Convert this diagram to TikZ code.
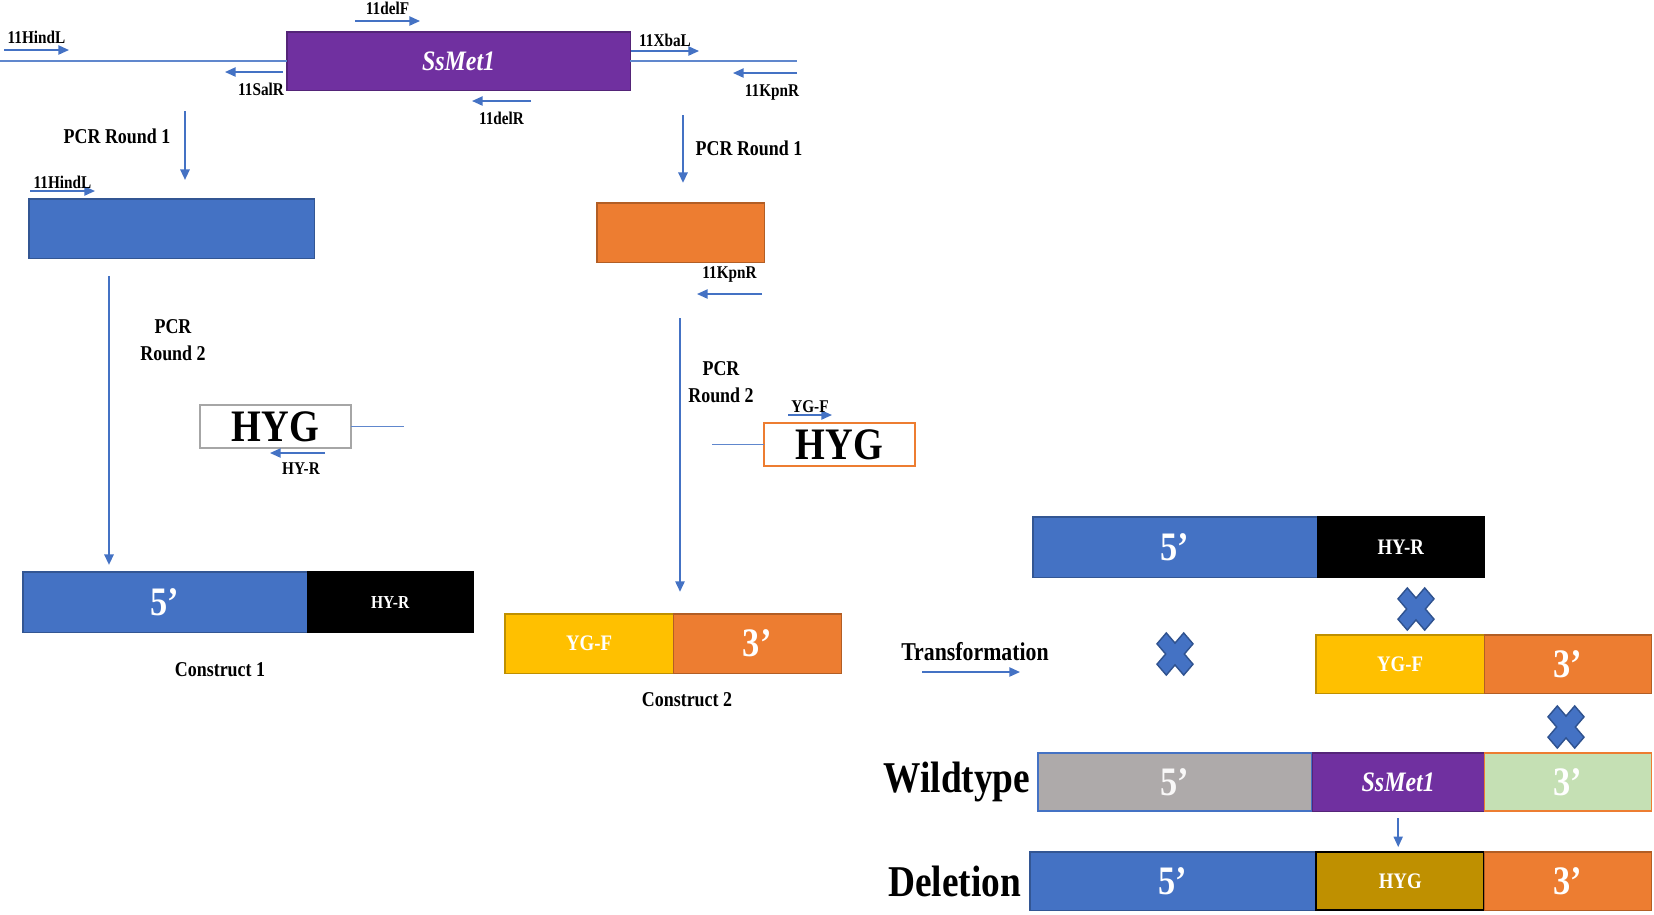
\documentclass[tikz,border=0pt]{standalone}
\usepackage{fontspec}
\setmainfont{Liberation Serif}[FakeStretch=0.85]
\usetikzlibrary{arrows.meta, positioning}
\definecolor{genepurple}{HTML}{7030A0}
\definecolor{fragblue}{HTML}{4472C4}
\definecolor{fragorange}{HTML}{ED7D31}
\definecolor{fragyellow}{HTML}{FFC000}
\definecolor{fraggray}{HTML}{AEAAAA}
\definecolor{fraggreen}{HTML}{C5E0B4}
\definecolor{hyggold}{HTML}{BF9000}
\definecolor{crossedge}{HTML}{2F528F}

\tikzset{
  block/.style={draw=#1!75!black, fill=#1, line width=0.3pt, minimum height=0.59cm, inner sep=0pt, outer sep=0pt},
  primer/.style={->, fragblue, line width=0.45pt},
  dna/.style={fragblue!85, line width=0.35pt},
  pcrarrow/.style={->, fragblue, line width=0.65pt},
  lbl/.style={text=black, font=\fontsize{5.1}{6}\selectfont\bfseries, inner sep=0.5pt},
  steplbl/.style={text=black, font=\fontsize{6}{7.6}\selectfont\bfseries, align=center, inner sep=0pt},
  rowlbl/.style={text=black, font=\fontsize{12.5}{14}\selectfont\bfseries, inner sep=0pt},
  endtxt/.style={text=white, font=\fontsize{11.5}{12}\selectfont\bfseries},
  tagtxt/.style={text=white, font=\fontsize{6.3}{7}\selectfont\bfseries},
  genetxt/.style={text=white, font=\fontsize{8}{9}\selectfont\bfseries\itshape},
  hygbox/.style={fill=white, inner sep=0pt, outer sep=0pt, minimum width=1.51cm, minimum height=0.43cm, font=\fontsize{12.8}{13}\selectfont\bfseries},
  crossmark/.pic={
    \fill[fragblue, draw=crossedge, line width=0.4pt, yscale=1.17, rotate=45]
      (6.6,6.6) -- (6.6,18.9) -- (-6.6,18.9) -- (-6.6,6.6) -- (-18.9,6.6) -- (-18.9,-6.6)
      -- (-6.6,-6.6) -- (-6.6,-18.9) -- (6.6,-18.9) -- (6.6,-6.6) -- (18.9,-6.6) -- (18.9,6.6) -- cycle;
  }
}

\begin{document}
\begin{tikzpicture}[x=0.01cm, y=-0.01cm, > = {Triangle[length=3pt, width=2.6pt]}]
  \useasboundingbox (0,0) rectangle (1654,914);

  % locus with primers
  \node[block=genepurple, minimum width=3.43cm, minimum height=0.58cm, anchor=north west, genetxt] (gene) at (287,32) {SsMet1};
  \draw[dna] (gene.west) -- ++(-287,0);
  \draw[dna] (gene.east) -- ++(167,0);
  \draw[primer] (4,50) -- (69,50) node[midway, above=1pt, lbl] (hindA) {11HindL};
  \draw[primer] (355,21) -- (420,21) node[midway, above=1pt, lbl] (delF) {11delF};
  \draw[primer] (283,72) -- (225,72) node[midway, below=2.5pt, lbl, xshift=2pt] (salR) {11SalR};
  \draw[primer] (631,51) -- (699,51) node[midway, above=0.5pt, lbl] (xbaL) {11XbaL};
  \draw[primer] (797,73) -- (733,73) node[midway, below=2.5pt, lbl, xshift=2pt] (kpnA) {11KpnR};
  \draw[primer] (531,101) -- (472,101) node[midway, below=2.5pt, lbl] (delR) {11delR};

  % PCR round 1
  \coordinate (pcrA) at (185,111);
  \coordinate (pcrB) at (683,115);
  \node[steplbl] (pcrAtxt) at (117,136) {PCR Round 1};
  \node[steplbl] (pcrBtxt) at (749,148) {PCR Round 1};
  \node[block=fragblue, minimum width=2.85cm, anchor=north west] (lfrag) at (29,199) {};
  \node[block=fragorange, minimum width=1.67cm, anchor=north west] (rfrag) at (597,203) {};
  \draw[pcrarrow, shorten >=5.4pt] (pcrA) -- (pcrA |- lfrag.north);
  \draw[pcrarrow, shorten >=5.7pt] (pcrB) -- (pcrB |- rfrag.north);
  \draw[primer] (30,191) -- (95,191) node[midway, above=0pt, lbl] (hindB) {11HindL};
  \draw[primer] (762,294) -- (697,294) node[midway, above=2.5pt, lbl] (kpnB) {11KpnR};

  % PCR round 2
  \coordinate (pcrC) at (109,267);
  \coordinate (pcrD) at (680,318);
  \node[steplbl] (pcrCtxt) at (173,340) {PCR\\Round 2};
  \node[steplbl] (pcrDtxt) at (721,382) {PCR\\Round 2};
  \node[hygbox, draw=gray!70, line width=0.5pt, anchor=north west] (hygA) at (200,405) {HYG};
  \draw[dna] (hygA.east) -- ++(53,0);
  \draw[primer] (325,453) -- (270,453) node[midway, below=2pt, lbl, xshift=1pt] (hyR) {HY-R};
  \node[hygbox, draw=fragorange, line width=0.6pt, anchor=north west] (hygB) at (764,423) {HYG};
  \draw[dna] (hygB.west) -- ++(-52,0);
  \draw[primer] (788,415) -- (832,415) node[midway, above=0pt, lbl] (ygF) {YG-F};

  % constructs
  \node[block=fragblue, minimum width=2.84cm, minimum height=0.6cm, anchor=north west, endtxt] (cAfive) at (23,572) {5’};
  \node[block=black, minimum width=1.66cm, minimum height=0.6cm, right=0pt of cAfive, tagtxt, font=\fontsize{5.2}{6}\selectfont\bfseries] (cAtag) {HY-R};
  \node[steplbl] (cAtxt) at (220,670) {Construct 1};
  \node[block=fragyellow, minimum width=1.68cm, anchor=north west, tagtxt] (cBtag) at (505,614) {YG-F};
  \node[block=fragorange, minimum width=1.68cm, right=0pt of cBtag, endtxt] (cBthree) {3’};
  \node[steplbl] (cBtxt) at (687,700) {Construct 2};
  \draw[pcrarrow, shorten <=2.5pt, shorten >=2pt] (pcrC) -- (pcrC |- cAfive.north);
  \draw[pcrarrow, shorten >=6.3pt] (pcrD) -- (pcrD |- cBtag.north);

  % transformation
  \node[steplbl, font=\fontsize{7.3}{8}\selectfont\bfseries] (trans) at (975,652) {Transformation};
  \coordinate (transA) at (922,672);
  \coordinate (transB) at (1020,672);
  \draw[primer] (transA) -- (transB);

  \node[block=fragblue, minimum width=2.84cm, minimum height=0.6cm, anchor=north west, endtxt] (tfive) at (1033,517) {5’};
  \node[block=black, minimum width=1.67cm, minimum height=0.6cm, right=0pt of tfive, tagtxt] (ttag) {HY-R};
  \node[block=fragyellow, minimum width=1.68cm, minimum height=0.58cm, anchor=north west, tagtxt] (mtag) at (1316,635) {YG-F};
  \node[block=fragorange, minimum width=1.67cm, minimum height=0.58cm, right=0pt of mtag, endtxt] (mthree) {3’};

  \node[block=fraggray, draw=fragblue, line width=0.4pt, minimum width=2.74cm, minimum height=0.58cm, anchor=north west, endtxt, text=white!92!fraggray] (wfive) at (1038,753) {5’};
  \node[block=genepurple, minimum width=1.72cm, minimum height=0.58cm, right=0pt of wfive, genetxt] (wgene) {SsMet1};
  \node[block=fraggreen, draw=fragorange, line width=0.4pt, minimum width=1.67cm, minimum height=0.58cm, right=0pt of wgene, endtxt] (wthree) {3’};
  \node[rowlbl, left=2pt of wfive] (wtxt) {Wildtype};

  \node[block=fragblue, minimum width=2.86cm, minimum height=0.58cm, anchor=north west, endtxt] (dfive) at (1030,852) {5’};
  \node[block=hyggold, draw=black, line width=0.5pt, minimum width=1.68cm, minimum height=0.58cm, right=0pt of dfive, tagtxt] (dhyg) {HYG};
  \node[block=fragorange, minimum width=1.67cm, minimum height=0.58cm, right=0pt of dhyg, endtxt] (dthree) {3’};
  \node[rowlbl, left=2.3pt of dfive] (dtxt) {Deletion};
  \coordinate (wdrop) at ([yshift=-2pt]wgene.south);
  \draw[primer] (wdrop) -- ([yshift=1.4pt]wdrop |- dhyg.north);

  % crossovers
  \pic at (1416,609) {crossmark};
  \pic at (1175,654) {crossmark};
  \pic at (1566,727) {crossmark};
\end{tikzpicture}
\end{document}
